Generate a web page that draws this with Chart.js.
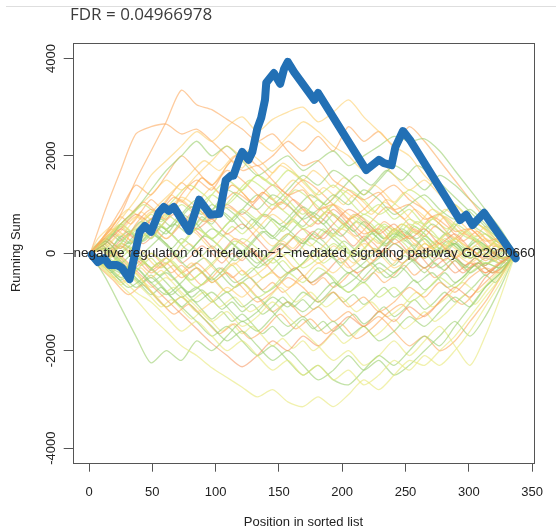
<!DOCTYPE html>
<html><head><meta charset="utf-8">
<script src="https://cdn.jsdelivr.net/npm/chart.js@4.4.1/dist/chart.umd.min.js"></script>
<style>html,body{margin:0;padding:0;background:#fff;}#wrap{width:556px;height:531px;}</style>
</head><body><div id="wrap"><canvas id="c" width="556" height="531"></canvas></div>
<script>
const titleText = 'FDR = 0.04966978';
const pathwayLabel = 'negative regulation of interleukin\u22121\u2212mediated signaling pathway GO2000660';
const xTitle = 'Position in sorted list';
const yTitle = 'Running Sum';
const xTickValues = [0, 50, 100, 150, 200, 250, 300, 350];
const yTickValues = [-4000, -2000, 0, 2000, 4000];
const yTickLabels = ['-4000', '-2000', '0', '2000', '4000'];

// observed gene set running sum
const blueX = [2, 7, 12, 16, 22, 26, 32, 40, 44, 49, 55, 59, 63, 67, 79, 87, 96, 103, 108, 112, 114, 119, 121, 126, 129, 133, 136, 139, 140, 146, 151, 154, 157, 162, 178, 181, 219, 229, 233, 239, 242, 248, 254, 293, 298, 303, 312, 337];
const blueY = [-30, -180, -100, -240, -240, -300, -530, 440, 560, 440, 830, 950, 870, 950, 460, 1100, 790, 810, 1500, 1590, 1590, 1960, 2080, 1920, 2080, 2570, 2780, 3150, 3500, 3700, 3480, 3780, 3930, 3720, 3150, 3290, 1710, 1920, 1850, 1810, 2180, 2510, 2310, 680, 790, 580, 830, -100];

// permutation running sums (background)
const posA = [1, 13, 25, 37, 49, 61, 73, 85, 97, 109, 121, 133, 145, 157, 169, 181, 193, 205, 217, 229, 241, 253, 265, 277, 289, 301, 313, 325, 337];
const posB = [1, 7, 19, 31, 43, 55, 67, 79, 91, 103, 115, 127, 139, 151, 163, 175, 187, 199, 211, 223, 235, 247, 259, 271, 283, 295, 307, 319, 331, 339];
const posC = [1, 9, 17, 25, 33, 41, 49, 57, 65, 73, 81, 89, 97, 105, 113, 121, 129, 137, 145, 153, 161, 169, 177, 185, 193, 201, 209, 217, 225, 233, 241, 249, 257, 265, 273, 281, 289, 297, 305, 313, 321, 329, 337];

const walkA01 = [0, 350, 800, 1500, 2100, 2700, 3350, 3050, 2950, 2750, 2550, 2300, 2450, 2100, 1800, 1900, 1500, 1300, 1100, 1250, 900, 1000, 700, 800, 450, 500, 250, 300, 0];
const walkA02 = [0, 900, 1700, 2450, 2600, 2650, 2450, 2550, 2300, 2000, 1700, 1800, 1500, 1200, 1300, 900, 1000, 700, 400, 500, 200, 350, 100, 200, -100, 100, -150, 50, 0];
const walkA03 = [0, 300, 700, 1100, 1600, 1900, 2200, 2500, 2300, 2600, 2800, 2500, 2750, 2900, 3000, 2700, 2900, 3150, 2800, 2500, 2200, 2000, 1600, 1300, 1000, 700, 500, 200, 0];
const walkA04 = [0, 200, 600, 900, 1300, 1700, 2000, 2300, 2000, 2200, 1900, 1600, 1800, 2000, 1700, 1900, 2100, 1800, 2000, 2200, 2400, 2300, 2350, 2100, 1700, 1300, 900, 500, 0];
const walkA05 = [0, 300, 100, 600, 900, 700, 1200, 1500, 1300, 1800, 2100, 1800, 2000, 2300, 2100, 2400, 2100, 2600, 2300, 2500, 2200, 2600, 2300, 1900, 1500, 1100, 700, 300, 0];
const walkA06 = [0, -200, 200, 500, 300, 700, 1000, 800, 1200, 1500, 1300, 1600, 1400, 1700, 1500, 1200, 1400, 1100, 800, 1000, 700, 900, 600, 800, 500, 300, 400, 100, 0];
const walkA07 = [0, 250, 0, 300, 600, 400, 800, 1100, 900, 1300, 1100, 900, 1200, 1000, 700, 900, 1200, 1000, 1300, 1100, 800, 1000, 1200, 900, 700, 900, 600, 300, 0];
const walkA08 = [0, -250, -100, -350, 0, -200, 200, 500, 300, 600, 900, 700, 1000, 800, 500, 700, 1000, 1300, 1100, 800, 1000, 1300, 1100, 800, 1000, 700, 500, 200, 0];
const walkA09 = [0, 200, 500, 300, 700, 1000, 800, 500, 700, 400, 600, 300, 0, 200, 500, 300, 600, 900, 700, 400, 600, 300, 500, 200, 400, 100, -100, 100, 0];
const walkA10 = [0, -300, -600, -400, -800, -1100, -900, -1200, -1000, -700, -900, -600, -400, -700, -500, -200, -400, -100, 200, 0, -300, -100, 200, 0, 300, 100, 300, 100, 0];
const walkA11 = [0, -200, -500, -300, -600, -400, -700, -1000, -800, -1100, -1400, -1200, -900, -1100, -800, -1000, -700, -400, -600, -300, -500, -200, 0, -300, -100, -400, -200, -300, 0];
const walkA12 = [0, -300, -650, -950, -1300, -1600, -1900, -2100, -2350, -2550, -2750, -2950, -2800, -3050, -3150, -2950, -3150, -2900, -2600, -2800, -2500, -2200, -2300, -2000, -1700, -1300, -900, -500, 0];
const walkA13 = [0, -200, -500, -800, -1000, -1300, -1600, -1400, -1700, -2000, -1800, -2100, -2400, -2200, -2500, -2300, -2600, -2400, -2700, -2500, -2200, -2400, -2100, -2300, -2000, -1600, -1100, -600, 0];
const walkA14 = [0, -100, -400, -700, -500, -800, -1100, -1400, -1700, -1500, -1800, -2100, -1900, -2200, -2500, -2300, -2600, -2700, -2400, -2100, -2300, -2000, -1700, -1900, -1500, -1100, -700, -400, 0];
const walkA15 = [0, 250, -50, -350, -650, -950, -1250, -1550, -1850, -2100, -2330, -2100, -1800, -2000, -1700, -1900, -1600, -1300, -1500, -1200, -1400, -1100, -1300, -1000, -700, -900, -500, -200, 0];
const walkA16 = [0, 300, 600, 400, 700, 500, 200, 500, 300, 0, 300, 100, -200, 0, -300, -100, 200, 0, 300, 600, 400, 700, 500, 300, 600, 400, 100, 300, 0];
const walkA17 = [0, 150, 450, 750, 550, 850, 1150, 950, 650, 950, 750, 450, 150, 400, 100, -200, 0, -300, -100, -400, -200, 100, -100, 200, 0, -200, 0, -200, 0];
const walkA18 = [0, -150, 150, -100, -400, -200, -500, -300, -600, -400, -700, -1000, -800, -500, -700, -1000, -800, -1100, -900, -1200, -1000, -700, -900, -600, -800, -500, -300, -400, 0];
const walkA19 = [0, 100, -200, 100, 400, 200, -100, 200, 500, 300, 0, -300, -100, -400, -200, 100, -100, -400, -200, 100, 400, 200, -100, 100, -100, -300, -100, -200, 0];
const walkA20 = [0, -300, -100, 200, 500, 800, 600, 900, 1200, 1000, 1300, 1600, 1400, 1100, 800, 1100, 800, 500, 800, 600, 300, 600, 400, 100, 300, 0, -200, -100, 0];
const walkA21 = [0, 400, 900, 1400, 1200, 1600, 2000, 1700, 1400, 1700, 1500, 1200, 900, 1200, 1500, 1300, 1000, 700, 900, 1200, 1400, 1100, 900, 600, 300, 500, 200, -100, 0];
const walkA22 = [0, -250, -550, -300, -600, -850, -600, -300, -550, -250, 50, -200, 100, 400, 200, 500, 300, 0, -300, -100, 200, 0, 300, 0, 200, -100, 100, -100, 0];
const walkA23 = [0, 200, -100, -400, -700, -500, -800, -1100, -1400, -1200, -1500, -1300, -1000, -1300, -1600, -1900, -2200, -2000, -2300, -2100, -1800, -2100, -1800, -1500, -1900, -2300, -1700, -900, 0];
const walkA24 = [0, 300, 100, 400, 700, 500, 800, 600, 300, 600, 900, 1200, 1000, 1300, 1600, 1400, 1700, 1500, 1200, 1500, 1800, 1600, 1300, 1600, 1400, 1100, 800, 400, 0];
const walkA25 = [0, 300, 600, 900, 1200, 1500, 1300, 1600, 1900, 2200, 2000, 2300, 2100, 2400, 2700, 2500, 2200, 2000, 1700, 1900, 1600, 1300, 1500, 1200, 900, 600, 300, 100, 0];
const walkA26 = [0, -100, 200, 0, -300, -100, -400, -700, -500, -800, -600, -900, -700, -400, -600, -300, -500, -800, -600, -900, -700, -1000, -800, -500, -700, -400, -200, -300, 0];
const walkA27 = [0, 100, 400, 200, 500, 300, 600, 400, 100, 400, 200, 500, 800, 600, 900, 700, 1000, 800, 500, 200, 500, 300, 0, 300, 100, -100, 100, -100, 0];
const walkA28 = [0, -200, -400, -100, -300, -600, -900, -700, -1000, -800, -1100, -900, -1200, -1500, -1300, -1600, -1400, -1700, -1500, -1800, -1600, -1300, -1500, -1200, -900, -1100, -700, -400, 0];
const walkA29 = [0, 200, 500, 800, 600, 300, 600, 900, 700, 1000, 800, 1100, 1400, 1200, 900, 600, 900, 600, 300, 0, 300, 0, -300, -100, -400, -200, -400, -200, 0];
const walkA30 = [0, 100, -200, -500, -800, -1100, -900, -1200, -1500, -1800, -1600, -1900, -2200, -2000, -2300, -2600, -2400, -2100, -2400, -2200, -2500, -2300, -2000, -1700, -1400, -1700, -1300, -700, 0];
const walkA31 = [0, -500, -1100, -1700, -2250, -2000, -2200, -1800, -2000, -1700, -1400, -1600, -1300, -1000, -1200, -900, -600, -800, -500, -200, -400, -100, -300, 0, 200, -100, 100, -100, 0];
const walkA32 = [0, -100, 200, 0, -300, -100, -400, -200, -500, -800, -600, -900, -1200, -1000, -1300, -1100, -1400, -1200, -1500, -1300, -1600, -1900, -1700, -2000, -1800, -1400, -1000, -500, 0];

const walkB01 = [0, -150, 150, 450, 250, 550, 350, 50, 350, 150, -150, 150, 450, 250, 550, 850, 650, 350, 650, 450, 150, 450, 250, -50, 250, 50, 250, 50, -150, 0];
const walkB02 = [0, 200, 500, 300, 0, -300, -100, 200, -100, -400, -200, -500, -300, 0, -300, -100, 200, 500, 300, 0, 300, 600, 400, 100, 400, 200, 0, 200, 100, 0];
const walkB03 = [0, 150, 450, 750, 1050, 850, 1150, 950, 650, 950, 1250, 1050, 750, 1050, 850, 550, 850, 650, 350, 650, 950, 750, 450, 750, 550, 250, 450, 150, 150, 0];
const walkB04 = [0, -100, -400, -700, -500, -200, -500, -800, -600, -300, -600, -400, -100, 200, 0, 300, 100, -200, 100, 400, 200, 500, 300, 600, 400, 700, 500, 300, 100, 0];
const walkB05 = [0, 100, 400, 700, 1000, 800, 1100, 1400, 1200, 900, 1200, 1500, 1300, 1000, 1300, 1100, 800, 500, 800, 600, 300, 600, 400, 700, 500, 800, 600, 400, 150, 0];
const walkB06 = [0, -200, -500, -300, -600, -900, -700, -1000, -800, -1100, -900, -1200, -1000, -700, -1000, -800, -1100, -900, -1200, -1000, -1300, -1100, -800, -1100, -900, -600, -800, -500, -200, 0];
const walkB07 = [0, 200, 0, -300, 0, 300, 600, 400, 700, 1000, 800, 500, 800, 600, 900, 1200, 1000, 1300, 1600, 1400, 1700, 1500, 1800, 1600, 1300, 1000, 700, 400, 150, 0];
const walkB08 = [0, -200, 100, 400, 200, 500, 800, 600, 300, 0, 300, 100, -200, -500, -300, -600, -400, -100, -400, -200, 100, -200, 0, -300, -100, -400, -200, -400, -200, 0];
const walkB09 = [0, 150, -150, 150, -150, -450, -250, -550, -350, -50, 250, 50, -250, 50, 350, 150, 450, 250, -50, 250, 550, 350, 650, 450, 150, 450, 250, 50, 150, 0];
const walkB10 = [0, 300, 600, 900, 700, 1000, 1300, 1600, 1900, 1700, 2000, 1800, 1500, 1800, 1600, 1300, 1000, 1300, 1100, 800, 1100, 900, 600, 900, 700, 400, 600, 300, 100, 0];
const walkB11 = [0, -250, -550, -850, -650, -950, -1250, -1050, -1350, -1650, -1450, -1750, -1550, -1250, -1550, -1350, -1650, -1450, -1750, -1550, -1250, -1050, -1350, -1150, -850, -1050, -750, -450, -200, 0];
const walkB12 = [0, 100, 400, 200, 500, 300, 0, -300, -100, -400, -700, -500, -800, -600, -300, -600, -400, -700, -500, -200, -500, -300, -600, -400, -700, -500, -200, -400, -100, 0];

const walkC01 = [0, 200, 400, 250, 450, 650, 500, 700, 550, 750, 950, 800, 1000, 850, 650, 850, 700, 500, 700, 550, 750, 950, 800, 600, 800, 650, 450, 650, 500, 300, 500, 350, 550, 400, 200, 400, 250, 100, 300, 150, 0, 150, 0];
const walkC02 = [0, -200, -50, -250, -450, -300, -500, -350, -550, -400, -200, -400, -250, -50, -250, -100, 100, -100, 50, 250, 100, 300, 150, -50, 150, 0, -200, 0, -150, 50, -150, 0, 200, 50, 250, 100, -100, 100, -50, 150, 0, -100, 0];
const walkC03 = [0, 250, 500, 750, 600, 850, 1100, 950, 1200, 1450, 1300, 1550, 1400, 1200, 1400, 1250, 1050, 1250, 1100, 900, 1100, 950, 750, 950, 800, 600, 800, 650, 450, 650, 500, 300, 500, 350, 550, 400, 200, 400, 250, 50, 250, 100, 0];
const walkC04 = [0, 150, -50, 150, -50, -250, -100, -300, -150, -350, -550, -400, -600, -450, -250, -450, -300, -500, -350, -150, -350, -200, 0, -200, -50, 150, -50, 100, 300, 150, 350, 200, 0, 200, 50, -150, 50, -100, 100, -50, 150, 0, 0];
const walkC05 = [0, -150, -350, -200, -400, -600, -450, -650, -850, -700, -900, -750, -950, -1150, -1000, -1200, -1050, -1250, -1100, -900, -1100, -950, -1150, -1000, -800, -1000, -850, -1050, -900, -700, -900, -750, -550, -750, -600, -400, -600, -450, -250, -450, -300, -150, 0];
const walkC06 = [0, 200, 400, 600, 450, 650, 850, 700, 900, 1100, 950, 1150, 1350, 1200, 1400, 1250, 1050, 1250, 1100, 1300, 1500, 1350, 1150, 1350, 1200, 1000, 1200, 1050, 850, 1050, 900, 700, 900, 750, 550, 750, 600, 400, 250, 400, 200, 100, 0];
const walkC07 = [0, -100, 100, -100, -300, -150, -350, -200, 0, -200, -50, 150, 0, -200, 0, -150, 50, -150, 0, 200, 50, 250, 450, 300, 500, 350, 150, 350, 200, 0, 200, 50, -150, 50, -100, 100, -50, -250, -100, -250, -100, -200, 0];
const walkC08 = [0, 250, 100, 350, 200, 450, 300, 550, 400, 650, 500, 750, 600, 850, 700, 500, 700, 550, 350, 550, 400, 200, 400, 250, 50, 250, 100, -100, 100, -50, -250, -50, -200, -400, -200, -350, -150, -300, -100, -250, -50, -150, 0];
const walkC09 = [0, -250, -450, -650, -500, -700, -900, -1100, -950, -1150, -1350, -1200, -1400, -1600, -1450, -1650, -1500, -1700, -1900, -1750, -1950, -1800, -2000, -1850, -1650, -1850, -1700, -1500, -1700, -1550, -1350, -1550, -1400, -1200, -1400, -1250, -1050, -850, -1050, -800, -550, -300, 0];
const walkC10 = [0, 150, 350, 550, 400, 600, 800, 650, 850, 700, 500, 700, 550, 350, 550, 400, 600, 800, 650, 450, 650, 500, 300, 500, 350, 550, 750, 600, 400, 600, 450, 250, 450, 300, 100, 300, 150, -50, 150, 0, -150, 50, 0];
const walkC11 = [0, -150, 50, -150, -350, -200, 0, -200, -400, -250, -450, -650, -500, -300, -500, -350, -550, -750, -600, -800, -650, -450, -650, -500, -700, -550, -350, -550, -400, -600, -450, -250, -450, -300, -500, -350, -150, -350, -200, -400, -250, -100, 0];
const walkC12 = [0, 200, 0, 200, 400, 250, 450, 300, 100, 300, 150, -50, 150, 0, 200, 50, 250, 450, 300, 500, 700, 550, 750, 600, 400, 600, 450, 250, 450, 300, 500, 350, 150, 350, 200, 0, 200, 50, 250, 100, -100, 100, 0];
const walkC13 = [0, 250, 500, 350, 600, 850, 700, 950, 1200, 1050, 1300, 1550, 1400, 1650, 1900, 1750, 2000, 1850, 1650, 1850, 1700, 1500, 1700, 1550, 1350, 1550, 1400, 1200, 1400, 1250, 1050, 1250, 1100, 900, 700, 900, 750, 550, 350, 550, 400, 200, 0];
const walkC14 = [0, -200, -400, -250, -450, -650, -850, -700, -900, -1100, -950, -1150, -1350, -1200, -1400, -1250, -1450, -1650, -1500, -1700, -1550, -1350, -1550, -1400, -1600, -1450, -1250, -1450, -1300, -1100, -1300, -1150, -950, -1150, -1000, -800, -1000, -850, -650, -450, -600, -300, 0];

const walksA = [walkA01, walkA02, walkA03, walkA04, walkA05, walkA06, walkA07, walkA08, walkA09, walkA10, walkA11, walkA12, walkA13, walkA14, walkA15, walkA16, walkA17, walkA18, walkA19, walkA20, walkA21, walkA22, walkA23, walkA24, walkA25, walkA26, walkA27, walkA28, walkA29, walkA30, walkA31, walkA32];
const walksB = [walkB01, walkB02, walkB03, walkB04, walkB05, walkB06, walkB07, walkB08, walkB09, walkB10, walkB11, walkB12];
const walksC = [walkC01, walkC02, walkC03, walkC04, walkC05, walkC06, walkC07, walkC08, walkC09, walkC10, walkC11, walkC12, walkC13, walkC14];
const colorsA = ['or','or','ye','gr','or','lg','gr','lg','dor','ye','gr','py','py','gr','dor','lg','ye','or','gr','lg','or','gr','py','gr','ye','lg','ye','gr','dor','gr','gr','or'];
const colorsB = ['gr','ye','or','gr','lg','py','gr','dor','lg','ye','or','gr'];
const colorsC = ['gr','ye','or','lg','gr','ye','dor','gr','py','lg','or','gr','ye','gr'];

const palette = {
  or: 'rgba(253,170,95,0.6)',
  dor: 'rgba(245,135,75,0.5)',
  ye: 'rgba(254,208,110,0.6)',
  py: 'rgba(232,232,120,0.6)',
  lg: 'rgba(205,232,125,0.7)',
  gr: 'rgba(155,207,110,0.6)'
};

const datasets = [];
datasets.push({
  data: blueX.map((x, i) => ({ x: x, y: blueY[i] })),
  borderColor: '#2270b5', borderWidth: 8, pointRadius: 0, tension: 0,
  borderCapStyle: 'round', borderJoinStyle: 'round', order: 0
});
function addWalks(list, pos, cols) {
  list.forEach((w, k) => datasets.push({
    data: pos.map((x, i) => ({ x: x, y: w[i] })),
    borderColor: palette[cols[k]], borderWidth: 1.3, pointRadius: 0, tension: 0.25, order: 1
  }));
}
addWalks(walksA, posA, colorsA);
addWalks(walksB, posB, colorsB);
addWalks(walksC, posC, colorsC);

const FONT = "'Liberation Sans', Arial, Helvetica, sans-serif";

const decor = {
  id: 'decor',
  beforeDraw(chart) {
    const c = chart.ctx;
    c.save();
    c.fillStyle = '#fff';
    c.fillRect(0, 0, chart.width, chart.height);
    c.strokeStyle = '#dedede'; c.lineWidth = 1;
    c.beginPath(); c.moveTo(6, 6.5); c.lineTo(chart.width, 6.5); c.stroke();
    c.fillStyle = '#3c3c3c';
    c.font = "17px 'Open Sans', sans-serif";
    c.textAlign = 'left'; c.textBaseline = 'alphabetic';
    c.fillText(titleText, 70, 19.5);
    c.restore();
  },
  afterDatasetsDraw(chart) {
    const c = chart.ctx, a = chart.chartArea;
    const xs = chart.scales.x, ys = chart.scales.y;
    c.save();
    c.strokeStyle = '#555'; c.lineWidth = 1;
    c.strokeRect(Math.round(a.left) + 0.5, Math.round(a.top) + 0.5, Math.round(a.right - a.left), Math.round(a.bottom - a.top));
    c.fillStyle = '#222';
    c.font = '13.5px ' + FONT;
    c.textAlign = 'center'; c.textBaseline = 'alphabetic';
    c.fillText(pathwayLabel, xs.getPixelForValue(170), ys.getPixelForValue(0) + 3.6);
    c.restore();
  },
  afterDraw(chart) {
    const c = chart.ctx, ys = chart.scales.y;
    c.save();
    c.fillStyle = '#222';
    c.font = '13px ' + FONT;
    c.textAlign = 'center'; c.textBaseline = 'alphabetic';
    yTickValues.forEach((v, i) => {
      c.save();
      c.translate(55, ys.getPixelForValue(v));
      c.rotate(-Math.PI / 2);
      c.fillText(yTickLabels[i], 0, 0);
      c.restore();
    });
    c.restore();
  }
};

new Chart(document.getElementById('c'), {
  type: 'line',
  data: { datasets: datasets },
  options: {
    responsive: false, animation: false, devicePixelRatio: 1,
    layout: { padding: { top: 42.7, right: 15.5, left: 0, bottom: 0 } },
    plugins: { legend: { display: false }, tooltip: { enabled: false }, title: { display: false } },
    scales: {
      x: {
        type: 'linear', min: -12.9, max: 351.6,
        afterBuildTicks: s => { s.ticks = xTickValues.map(v => ({ value: v })); },
        ticks: { font: { family: FONT, size: 13 }, color: '#222', padding: 13, maxRotation: 0, autoSkip: false,
                 callback: v => String(v) },
        grid: { drawOnChartArea: false, drawTicks: true, tickLength: 9, color: '#555', lineWidth: 1 },
        border: { display: false },
        title: { display: true, text: xTitle, font: { family: FONT, size: 13 }, color: '#222', padding: { top: 0, bottom: 1 } },
        afterFit: s => { s.height = 531 - 462.7; }
      },
      y: {
        type: 'linear', min: -4300, max: 4324,
        afterBuildTicks: s => { s.ticks = yTickValues.map(v => ({ value: v })); },
        ticks: { display: false },
        grid: { drawOnChartArea: false, drawTicks: true, tickLength: 9, color: '#555', lineWidth: 1 },
        border: { display: false },
        title: { display: true, text: yTitle, font: { family: FONT, size: 13 }, color: '#222', padding: { top: 9, bottom: 0 } },
        afterFit: s => { s.width = 72.7; }
      }
    }
  },
  plugins: [decor]
});
</script>
</body></html>
